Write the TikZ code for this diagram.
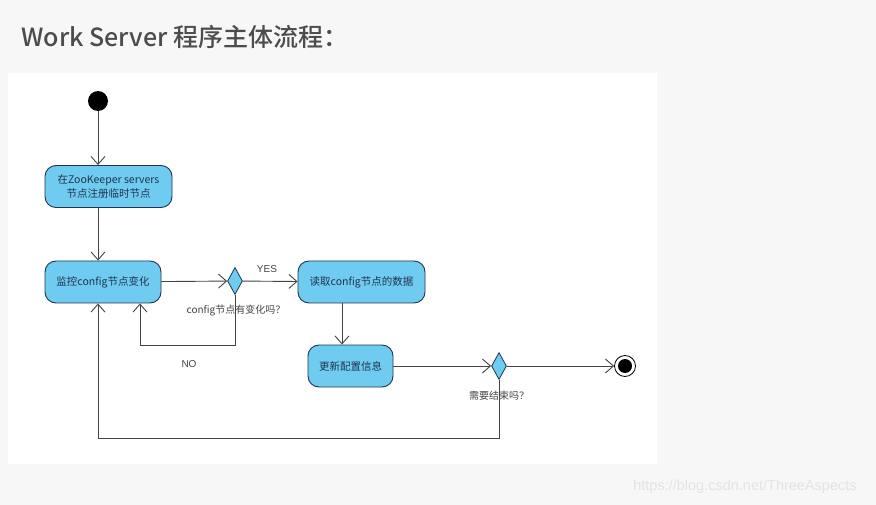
\documentclass[tikz,border=0pt]{standalone}
\usepackage{fontspec}
\setmainfont{Liberation Sans}
\newfontfamily\cjk{Noto Sans CJK SC}
\newfontfamily\cjkm{Noto Sans CJK SC Medium}
\usetikzlibrary{arrows.meta,shapes.geometric}
\definecolor{bg}{HTML}{F7F7F7}
\definecolor{boxfill}{HTML}{70CBF0}
\definecolor{boxline}{HTML}{1E3550}
\definecolor{lin}{HTML}{444444}
\tikzset{
  act/.style={draw=boxline,fill=boxfill,rounded corners=11pt,line width=0.9pt,minimum height=42pt,inner sep=2pt,font=\cjk\fontsize{10.5}{14}\selectfont,align=center,text=boxline},
  dec/.style={draw=boxline,fill=boxfill,diamond,minimum width=15pt,minimum height=27pt,inner sep=0pt,line width=0.8pt,aspect=0.55},
  flow/.style={draw=lin,line width=0.9pt,-{Straight Barb[length=8pt,width=14pt]}},
  lbl/.style={font=\cjk\fontsize{10}{11}\selectfont,text=lin}
}
\begin{document}
\begin{tikzpicture}[x=1pt,y=-1pt]
\fill[bg] (0,0) rectangle (876,505);
\fill[white] (8,73) rectangle (657,464);
\node[anchor=west,font=\cjkm\fontsize{25}{30}\selectfont,text=black!70] (title) at (18,37) {Work Server 程序主体流程：};
\node[circle,fill=black,minimum size=20pt,inner sep=0pt] (start) at (98,101) {};
\node[act,minimum width=127pt] (b1) at (108.5,186.5) {在ZooKeeper servers\\节点注册临时节点};
\node[act,minimum width=116pt] (b2) at (103,282) {监控config节点变化};
\node[dec] (d1) at (235,281) {};
\node[act,minimum width=127pt] (b3) at (361.5,282) {读取config节点的数据};
\node[act,minimum width=85pt] (b4) at (350.5,366) {更新配置信息};
\node[dec] (d2) at (499,366) {};
\node[circle,draw=black,fill=white,line width=0.8pt,minimum size=21pt,inner sep=0pt] (end) at (625,366) {};
\fill[black] (end.center) circle (7pt);
\coordinate (c1) at (140,345);
\coordinate (c2) at (98,438);
\draw[flow] (start) -- (b1.north -| start);
\draw[flow] (b1.south -| start) -- (b2.north -| start);
\draw[flow] (b2) -- (d1);
\draw[flow] (d1) -- (b3);
\draw[flow] (b3.south -| 342,0) -- (b4.north -| 342,0);
\draw[flow] (b4) -- (d2);
\draw[flow] (d2) -- (end);
\draw[flow] (d1.south) |- (c1) -- (b2.south -| c1);
\draw[flow] (d2.south) |- (c2) -- (b2.south -| c2);
\node[lbl,font=\fontsize{10}{11}\selectfont] (yes) at (267,269) {YES};
\node[lbl] (q1) at (236,311) {config节点有变化吗？};
\node[lbl,font=\fontsize{10}{11}\selectfont] (no) at (189,364) {NO};
\node[lbl] (q2) at (499,396) {需要结束吗？};
\node[font=\fontsize{14.5}{16}\selectfont,text=white!78!gray] (wm) at (745,487) {https://blog.csdn.net/ThreeAspects};
\end{tikzpicture}
\end{document}
